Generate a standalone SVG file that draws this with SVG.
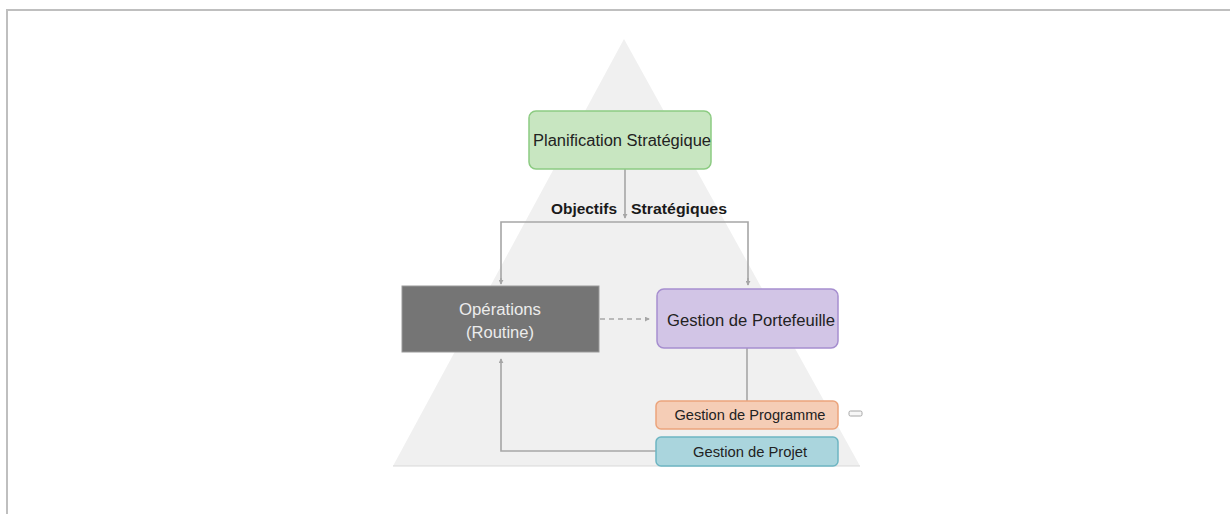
<svg xmlns="http://www.w3.org/2000/svg" width="1230" height="514" viewBox="0 0 1230 514">
<style>
text{font-family:"Liberation Sans",Arial,sans-serif;text-anchor:middle;dominant-baseline:central}
.conn{fill:none;stroke:#a6a6a6;stroke-width:1.6}
.lbl{font-weight:bold;font-size:15px;fill:#1a1a1a}
</style>
<defs>
<marker id="ah" viewBox="0 0 6 6" refX="5" refY="3" markerWidth="5" markerHeight="5" orient="auto" markerUnits="userSpaceOnUse">
<path d="M0,0 L6,3 L0,6 z" fill="#a6a6a6"/>
</marker>
</defs>
<rect width="1230" height="514" fill="#ffffff"/>
<g id="frame">
<line x1="6" y1="10" x2="1230" y2="10" stroke="#bfbfbf" stroke-width="2"/>
<line x1="7" y1="9" x2="7" y2="514" stroke="#bfbfbf" stroke-width="2"/>
</g>
<g id="pyramid">
<polygon points="624,39 860,466 393,466" fill="#f0f0f0"/>
<line x1="393" y1="466" x2="860" y2="466" stroke="#d9d9d9" stroke-width="1"/>
</g>
<g id="connectors">
<line class="conn" x1="625" y1="169" x2="625" y2="218" marker-end="url(#ah)"/>
<polyline class="conn" points="501,283 501,222 748,222 748,284" stroke-width="2"/>
<line class="conn" x1="501" y1="278" x2="501" y2="284" marker-end="url(#ah)"/>
<line class="conn" x1="748" y1="278" x2="748" y2="285" marker-end="url(#ah)"/>
<line class="conn" x1="600" y1="319" x2="649" y2="319" stroke-dasharray="5,4" marker-end="url(#ah)"/>
<line class="conn" x1="747" y1="348" x2="747" y2="401"/>
<polyline class="conn" points="656,451 501,451 501,359" marker-end="url(#ah)"/>
<text class="lbl" x="584" y="208" textLength="66" lengthAdjust="spacingAndGlyphs">Objectifs</text>
<text class="lbl" x="679" y="208" textLength="96" lengthAdjust="spacingAndGlyphs">Stratégiques</text>
</g>
<g id="planification">
<rect x="529" y="111" width="182" height="58" rx="7" fill="#c8e6c1" stroke="#8ccb82" stroke-width="1.5"/>
<text x="622" y="140" font-size="16" fill="#222" textLength="178" lengthAdjust="spacingAndGlyphs">Planification Stratégique</text>
</g>
<g id="operations">
<rect x="402" y="286" width="197" height="66" fill="#757575" stroke="#9a9a9a" stroke-width="1"/>
<text x="500" y="309" font-size="16" fill="#ececec" textLength="82" lengthAdjust="spacingAndGlyphs">Opérations</text>
<text x="500" y="332" font-size="16" fill="#ececec" textLength="68" lengthAdjust="spacingAndGlyphs">(Routine)</text>
</g>
<g id="portefeuille">
<rect x="657" y="289" width="181" height="59" rx="7" fill="#d2c5e6" stroke="#a68ecf" stroke-width="1.5"/>
<text x="751" y="320" font-size="16" fill="#222" textLength="168" lengthAdjust="spacingAndGlyphs">Gestion de Portefeuille</text>
</g>
<g id="programme">
<rect x="656" y="401" width="182" height="28" rx="5" fill="#f5cdb6" stroke="#eba47c" stroke-width="1.5"/>
<text x="750" y="415" font-size="14" fill="#222" textLength="151" lengthAdjust="spacingAndGlyphs">Gestion de Programme</text>
</g>
<g id="small-box">
<rect x="849" y="411" width="13" height="5" rx="1.5" fill="#f7f7f7" stroke="#a6a6a6" stroke-width="1"/>
</g>
<g id="projet">
<rect x="656" y="437" width="182" height="29" rx="5" fill="#aad5dd" stroke="#6db5c2" stroke-width="1.5"/>
<text x="750" y="452" font-size="14" fill="#222" textLength="114" lengthAdjust="spacingAndGlyphs">Gestion de Projet</text>
</g>
</svg>
